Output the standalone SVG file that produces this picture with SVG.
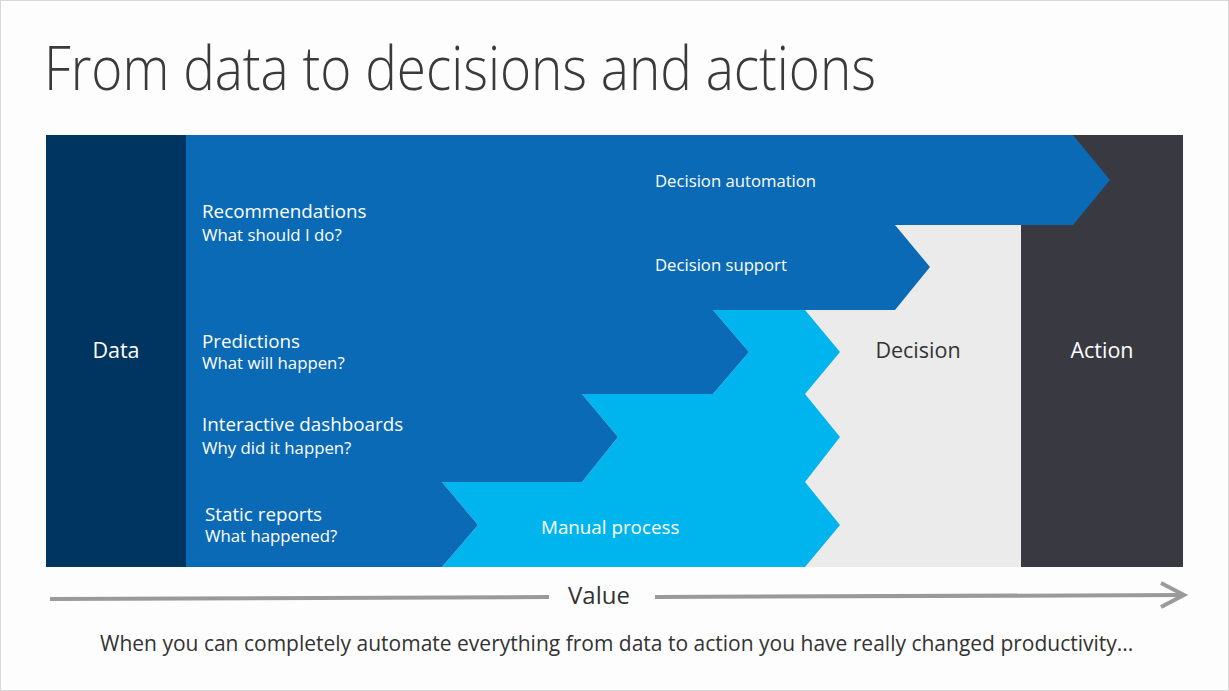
<svg xmlns="http://www.w3.org/2000/svg" width="1229" height="691" viewBox="0 0 1229 691">
<style>
text{font-family:"Open Sans","Noto Sans","Liberation Sans",sans-serif;}
.w{fill:#ffffff;}
.lbl{font-size:18.8px;}
.dec{font-size:16.7px;}
.sub{font-size:16.8px;}
.col{font-size:21.5px;text-anchor:middle;}
.axis{stroke:#9a9a9a;stroke-width:4;fill:none;stroke-linecap:butt;}
</style>
<rect x="0.5" y="0.5" width="1228" height="690" fill="#fdfdfd" stroke="#d8d8d8"/>
<text x="44" y="90" font-size="60" font-weight="300" fill="#3a3a3a" textLength="832" lengthAdjust="spacingAndGlyphs">From data to decisions and actions</text>

<g id="decision">
<rect x="790" y="225" width="231" height="342" fill="#ebebeb"/>
<text class="col" x="918" y="358" fill="#333333">Decision</text>
</g>
<g id="action">
<rect x="1021" y="135" width="162" height="432" fill="#393942"/>
<text class="col w" x="1102" y="358">Action</text>
</g>
<g id="manual-process">
<polygon points="713,310 805,310 840,352 805,394 840,437 805,482 840,525 805,567 442,567 478,525 442,482 582,482 618,437 582,394 713,394 749,352" fill="#00b5ed"/>
<text class="lbl w" x="541" y="534">Manual process</text>
</g>
<g id="analytics">
<polygon points="186,135 1073,135 1110,180 1073,225 895,225 930,267 895,310 713,310 749,352 713,394 582,394 618,437 582,482 442,482 478,525 442,567 186,567" fill="#0a6ab6"/>
<text class="dec w" x="655" y="187">Decision automation</text>
<text class="dec w" x="655" y="271">Decision support</text>
<text class="lbl w" x="202" y="218">Recommendations</text>
<text class="sub w" x="202" y="240.5">What should I do?</text>
<text class="lbl w" x="202" y="347.5">Predictions</text>
<text class="sub w" x="202" y="369">What will happen?</text>
<text class="lbl w" x="202" y="431">Interactive dashboards</text>
<text class="sub w" x="202" y="453.5">Why did it happen?</text>
<text class="lbl w" x="205" y="520.5">Static reports</text>
<text class="sub w" x="205" y="542">What happened?</text>
</g>
<g id="data">
<rect x="46" y="135" width="140" height="432" fill="#003561"/>
<text class="col w" x="116" y="358">Data</text>
</g>

<g id="connectors">
<line class="axis" x1="50" y1="599" x2="549" y2="597"/>
<line class="axis" x1="655" y1="597" x2="1183" y2="595"/>
<polyline class="axis" points="1161,583 1184,595 1161,607"/>
</g>
<text x="599" y="604" font-size="24" text-anchor="middle" fill="#333333">Value</text>
<text x="100" y="651" font-size="21" fill="#333333">When you can completely automate everything from data to action you have really changed productivity...</text>
</svg>
